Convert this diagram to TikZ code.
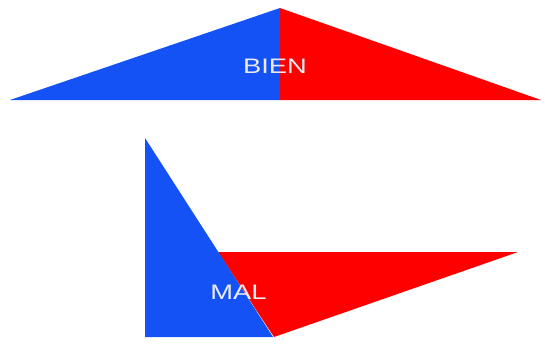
\documentclass[tikz,border=0pt]{standalone}
\usepackage{fontspec}
\setmainfont{Liberation Sans}
\definecolor{fblue}{RGB}{20,82,245}
\definecolor{fred}{RGB}{255,0,0}
\definecolor{ftext}{RGB}{235,235,240}
\tikzset{lbl/.style={text=ftext,font=\fontsize{21}{21}\selectfont,inner sep=0pt,xscale=1.3,anchor=base}}
\begin{document}
\begin{tikzpicture}[x=1pt,y=-1pt]
\useasboundingbox[fill=white] (0,0) rectangle (545,345);
% top
\fill[fblue] (10,100) -- (280,8) -- (280,100) -- cycle;
\fill[fred] (280,8) -- (541,100) -- (280,100) -- cycle;
\node[lbl] (bien) at (275,74) {BIEN};
% bottom
\fill[fred] (218,252) -- (518,252) -- (274,337) -- cycle;
\fill[fblue] (145,138) -- (145,337) -- (273,337) -- cycle;
\node[lbl] (mal) at (238.5,299) {MAL};
\end{tikzpicture}
\end{document}
